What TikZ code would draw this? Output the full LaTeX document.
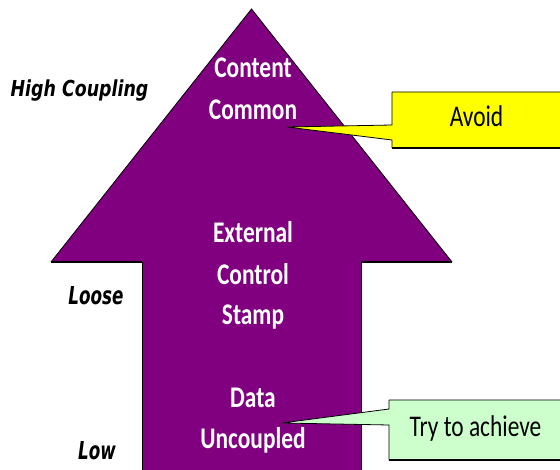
\documentclass[tikz,border=0pt]{standalone}
\usepackage{fontspec}
\newfontfamily\calfont[FakeStretch=0.78]{Carlito}
\newfontfamily\calreg[FakeStretch=0.78]{Carlito}
\newfontfamily\labwide[FakeStretch=0.79]{DejaVu Sans}
\newfontfamily\labnarrow[FakeStretch=0.68]{DejaVu Sans}
\definecolor{arrowpurple}{HTML}{800080}
\definecolor{calloutyellow}{HTML}{FFFF00}
\definecolor{calloutgreen}{HTML}{CCFFCC}
\tikzset{
  level/.style={text=white, anchor=base, inner sep=0pt, font=\calfont\bfseries\fontsize{30}{35}\selectfont},
  side/.style={text=black, anchor=base, inner sep=0pt},
  callouttext/.style={text=black, anchor=base, inner sep=0pt, font=\calreg\fontsize{30}{36}\selectfont},
  calloutshape/.style={draw=black, line width=0.8pt, line join=miter},
}
\begin{document}
\begin{tikzpicture}[x=1pt,y=-1pt]
\useasboundingbox (0,0) rectangle (560,470);
\begin{scope}
\clip (0,0) rectangle (560,470);
% big arrow
\coordinate (tip) at (251.5,9);
\coordinate (rb) at (452,262);
\coordinate (rs) at (361,262);
\coordinate (rbot) at (361,472);
\coordinate (lbot) at (142,472);
\coordinate (ls) at (142,262);
\coordinate (lb) at (51,262);
\fill[arrowpurple] (tip) -- (rb) -- (rs) -- (rbot) -- (lbot) -- (ls) -- (lb) -- cycle;
\draw[black, line width=0.8pt] (lb) -- (tip) -- (rb);
\draw[black, line width=0.8pt] (rs) -- (rbot) (ls) -- (lbot);
\draw[black, line width=2.5pt] (lb) -- (ls) (rs) -- (rb);

% callout Avoid
\coordinate (atip) at (287,127);
\fill[calloutyellow] (392,92) -- (562,92) -- (562,148) -- (392,148) -- (392,140) -- (atip) -- (392,125) -- cycle;
\draw[calloutshape] (392,92) -- (562,92) (392,148) -- (392,140) -- (atip) -- (392,125) -- (392,92);
\draw[black, line width=2.5pt] (392,148) -- (562,148);

% callout Try to achieve
\coordinate (ttip) at (282,423);
\fill[calloutgreen] (389,400) -- (562,400) -- (562,460) -- (389,460) -- (389,425) -- (ttip) -- (389,409) -- cycle;
\draw[calloutshape] (389,400) -- (562,400) (389,460) -- (389,425) -- (ttip) -- (389,409) -- (389,400);
\draw[black, line width=2.5pt] (389,460) -- (562,460);
\end{scope}

% arrow labels
\node[level] (content) at (253,78) {Content};
\node[level] (common) at (253,120) {Common};
\node[level] (external) at (253,243) {External};
\node[level] (control) at (253,285) {Control};
\node[level] (stamp) at (253,325) {Stamp};
\node[level] (data) at (253,408) {Data};
\node[level] (uncoupled) at (253,448) {Uncoupled};

% callout texts
\node[callouttext] (avoid) at (476.5,127) {Avoid};
\node[callouttext] (try) at (475.5,437) {Try to achieve};

% side labels
\node[side, font=\labwide\bfseries\itshape\fontsize{22}{25}\selectfont] (high) at (79.5,97) {High Coupling};
\node[side, font=\labnarrow\bfseries\itshape\fontsize{24.7}{28}\selectfont] (loose) at (96,305) {Loose};
\node[side, font=\labnarrow\bfseries\itshape\fontsize{24.7}{28}\selectfont] (low) at (97,460) {Low};
\end{tikzpicture}
\end{document}
